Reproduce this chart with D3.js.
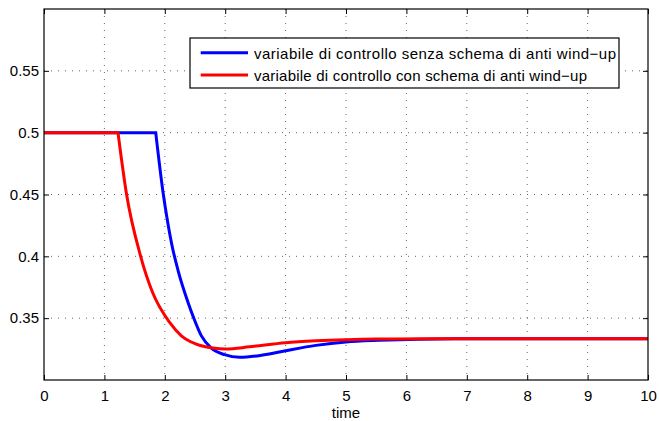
<!DOCTYPE html>
<html>
<head>
<meta charset="utf-8">
<script src="https://cdn.jsdelivr.net/npm/d3@7"></script>
<style>
  body { margin: 0; background: #fff; }
  text { font-family: "Liberation Sans", Arial, sans-serif; fill: #000; }
</style>
</head>
<body>
<script>
// data
var timeBlue = [0, 1.85, 1.97, 2.05, 2.114, 2.22, 2.385, 2.48, 2.606, 2.77, 2.99, 3.24, 3.60, 4.00, 4.50, 5.00, 5.55, 6.20, 7.00, 8.00, 10.0];
var valBlue  = [0.5, 0.5, 0.452, 0.427, 0.410, 0.3885, 0.3627, 0.350, 0.3357, 0.3258, 0.3205, 0.3183, 0.3200, 0.3237, 0.3280, 0.3308, 0.3321, 0.3330, 0.3333, 0.3333, 0.3333];
var timeRed  = [0, 1.225, 1.364, 1.60, 1.80, 2.08, 2.275, 2.52, 2.80, 3.01, 3.40, 4.00, 4.50, 5.00, 5.50, 6.50, 8.00, 10.0];
var valRed   = [0.5, 0.5, 0.451, 0.400, 0.3705, 0.3465, 0.3357, 0.3290, 0.3258, 0.3250, 0.3268, 0.3302, 0.3317, 0.3326, 0.3331, 0.3333, 0.3333, 0.3333];
var xTicks = [0, 1, 2, 3, 4, 5, 6, 7, 8, 9, 10];
var yTicks = [0.35, 0.4, 0.45, 0.5, 0.55];
var legendLabels = ["variabile di controllo senza schema di anti wind\u2212up",
                    "variabile di controllo con schema di anti wind\u2212up"];
var legendWidths = [362, 333];
var colors = ["#0000ff", "#ff0000"];

var W = 659, H = 421;
var margin = {top: 9, right: 11, bottom: 41, left: 44};
var width = W - margin.left - margin.right,
    height = H - margin.top - margin.bottom;

var x = d3.scaleLinear().domain([0, 10]).range([0, width]);
var y = d3.scaleLinear().domain([0.3, 0.6]).range([height, 0]);

var svg = d3.select("body").append("svg")
    .attr("width", W)
    .attr("height", H)
    .append("g")
    .attr("transform", "translate(" + margin.left + "," + margin.top + ")");

// grid
svg.append("g").selectAll("line")
    .data(xTicks.slice(1, -1))
    .enter().append("line")
    .attr("x1", d => x(d)).attr("x2", d => x(d))
    .attr("y1", 0).attr("y2", height)
    .attr("stroke", "#666").attr("stroke-width", 1)
    .attr("stroke-dasharray", "1,6");
svg.append("g").selectAll("line")
    .data(yTicks)
    .enter().append("line")
    .attr("y1", d => y(d)).attr("y2", d => y(d))
    .attr("x1", 0).attr("x2", width)
    .attr("stroke", "#666").attr("stroke-width", 1)
    .attr("stroke-dasharray", "1,6");

// axes, ticks pointing inward on all four sides
var tk = 5;
var xAxis = d3.axisBottom(x).tickValues(xTicks).tickSize(-tk).tickPadding(10).tickFormat(d3.format("d"));
var xTop = d3.axisTop(x).tickValues(xTicks).tickSize(-tk).tickFormat("");
var yAxis = d3.axisLeft(y).tickValues(yTicks).tickSize(-tk).tickPadding(5).tickFormat(d => String(+d.toFixed(2)));
var yRight = d3.axisRight(y).tickValues(yTicks).tickSize(-tk).tickFormat("");

function style(g) {
    g.select(".domain").remove();
    g.selectAll(".tick line").attr("stroke", "#000");
    g.selectAll("text").style("font-size", "15px").style("font-family", "Liberation Sans, Arial, sans-serif");
}

svg.append("g").attr("transform", "translate(0," + height + ")").call(xAxis).call(style);
svg.append("g").call(xTop).call(style);
svg.append("g").call(yAxis).call(style);
svg.append("g").attr("transform", "translate(" + width + ",0)").call(yRight).call(style);

// lines: flat part straight, then a smooth curve from the corner
var curve = d3.line()
    .curve(d3.curveMonotoneX)
    .x(d => x(d[0]))
    .y(d => y(d[1]));

function pathFor(pts) {
    return "M" + x(pts[0][0]) + "," + y(pts[0][1]) + "L" + curve(pts.slice(1)).slice(1);
}

var series = [d3.zip(timeBlue, valBlue), d3.zip(timeRed, valRed)];
svg.selectAll(".line")
    .data(series)
    .enter().append("path")
    .attr("class", "line")
    .attr("fill", "none")
    .attr("stroke", (d, i) => colors[i])
    .attr("stroke-width", 3)
    .attr("d", pathFor);

// box
svg.append("rect")
    .attr("width", width).attr("height", height)
    .attr("fill", "none").attr("stroke", "#000").attr("stroke-width", 1.2);

// x label
svg.append("text")
    .attr("x", width / 2).attr("y", height + 38)
    .attr("text-anchor", "middle")
    .style("font-size", "15px")
    .text("time");

// legend
var lg = svg.append("g").attr("transform", "translate(" + (190 - margin.left) + "," + (38 - margin.top) + ")");
lg.append("rect")
    .attr("width", 429).attr("height", 50)
    .attr("fill", "#fff").attr("stroke", "#000").attr("stroke-width", 1.2);
legendLabels.forEach(function (lab, i) {
    var yy = 14.7 + i * 22.3;
    lg.append("line")
        .attr("x1", 10.7).attr("x2", 58)
        .attr("y1", yy).attr("y2", yy)
        .attr("stroke", colors[i]).attr("stroke-width", 3);
    lg.append("text")
        .attr("x", 64).attr("y", yy + 6)
        .attr("textLength", legendWidths[i])
        .attr("lengthAdjust", "spacing")
        .style("font-size", "15px")
        .text(lab);
});
</script>
</body>
</html>
